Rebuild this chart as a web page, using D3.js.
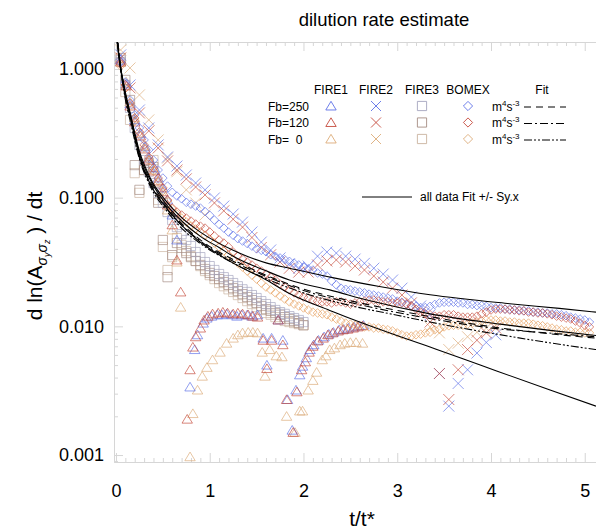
<!DOCTYPE html>
<html>
<head>
<meta charset="utf-8">
<script src="https://cdn.jsdelivr.net/npm/d3@7"></script>
<style>
  body { margin: 0; background: #fff; }
  text { font-family: "Liberation Sans", Arial, Helvetica, sans-serif; }
</style>
</head>
<body>
<svg id="chart" width="596" height="532"></svg>
<script>
// ---- data ----
const fbLabels = ['Fb=250', 'Fb=120', 'Fb=  0'];
const caseNames = ['FIRE1', 'FIRE2', 'FIRE3', 'BOMEX'];
const yTickValues = [0.001, 0.01, 0.1, 1];
const xTickValues = [0, 1, 2, 3, 4, 5];

// BOMEX: sampled every 0.05 starting at t/t* = 0.05
const bomexT0 = 0.05, bomexDt = 0.05;
const bomexFb250 = [
  1.13, 0.79, 0.574, 0.44, 0.348, 0.281, 0.235, 0.196, 0.164, 0.142,
  0.123, 0.110, 0.103, 0.098, 0.092, 0.089, 0.086, 0.083, 0.078, 0.073,
  0.067, 0.062, 0.058, 0.054, 0.051, 0.048, 0.046, 0.044, 0.042, 0.040,
  0.039, 0.038, 0.036, 0.035, 0.034, 0.033, 0.032, 0.031, 0.030, 0.029,
  0.028, 0.0274, 0.026, 0.0255, 0.0246, 0.0225, 0.021, 0.0198, 0.0194, 0.0192,
  0.0188, 0.0185, 0.0182, 0.0178, 0.0175, 0.0172, 0.0169, 0.0166, 0.0163, 0.0157,
  0.0154, 0.0148, 0.0145, 0.0143, 0.0140, 0.0140, 0.0143, 0.0148, 0.0152, 0.0154,
  0.0154, 0.0154, 0.0152, 0.0152, 0.0148, 0.0148, 0.0145, 0.0145, 0.0143, 0.0140,
  0.0139, 0.0139, 0.0136, 0.0136, 0.0134, 0.0134, 0.0132, 0.0132, 0.0129, 0.0129,
  0.0127, 0.0127, 0.0125, 0.0125, 0.0123, 0.0121, 0.0118, 0.0116, 0.0114, 0.0112,
  0.0108
];
const bomexFb120 = [
  1.094, 0.751, 0.544, 0.416, 0.324, 0.257, 0.207, 0.170, 0.142, 0.119,
  0.0959, 0.0831, 0.0773, 0.0733, 0.0694, 0.0658, 0.0624, 0.0601, 0.058, 0.0541,
  0.0503, 0.0469, 0.0444, 0.0414, 0.0378, 0.0351, 0.0333, 0.0316, 0.030, 0.0283,
  0.0269, 0.0255, 0.0241, 0.0229, 0.0213, 0.0202, 0.0192, 0.0182, 0.0175, 0.0169,
  0.0166, 0.016, 0.0157, 0.0155, 0.0155, 0.0152, 0.0155, 0.0155, 0.0152, 0.0149,
  0.0152, 0.0155, 0.0157, 0.016, 0.016, 0.0157, 0.0155, 0.0155, 0.0152, 0.0152,
  0.0152, 0.0149, 0.0144, 0.0136, 0.0129, 0.0125, 0.0123, 0.012, 0.012, 0.0123,
  0.0123, 0.0123, 0.012, 0.0118, 0.0118, 0.0118, 0.012, 0.0125, 0.0129, 0.0134,
  0.0136, 0.0136, 0.0136, 0.0134, 0.0134, 0.0132, 0.0132, 0.0129, 0.0129, 0.0127,
  0.0127, 0.0125, 0.0123, 0.012, 0.0118, 0.0116, 0.0114, 0.011, 0.0106, 0.0102,
  0.0099
];
const bomexFb0 = [
  1.055, 0.712, 0.516, 0.394, 0.307, 0.243, 0.196, 0.161, 0.135, 0.113,
  0.0942, 0.0818, 0.0746, 0.0694, 0.0647, 0.0601, 0.0571, 0.0541, 0.0512, 0.0477,
  0.0444, 0.0414, 0.0385, 0.0358, 0.0333, 0.0311, 0.0289, 0.0269, 0.025, 0.0233,
  0.0217, 0.0202, 0.0192, 0.0182, 0.0172, 0.0163, 0.0155, 0.0149, 0.0144, 0.0139,
  0.0134, 0.0129, 0.0127, 0.0125, 0.0123, 0.0118, 0.0114, 0.011, 0.0106, 0.0104,
  0.0102, 0.0101, 0.0099, 0.0099, 0.0097, 0.0097, 0.0095, 0.0094, 0.0092, 0.0089,
  0.0086, 0.0084, 0.0084, 0.0086, 0.0087, 0.0089, 0.009, 0.0094, 0.0095, 0.0099,
  0.0101, 0.0102, 0.0102, 0.0102, 0.0104, 0.0106, 0.0108, 0.011, 0.0112, 0.0112,
  0.0112, 0.011, 0.011, 0.0108, 0.0108, 0.0106, 0.0106, 0.0106, 0.0104, 0.0102,
  0.0101, 0.0099, 0.0097, 0.0095, 0.0094, 0.0092, 0.0092, 0.009, 0.009, 0.0089,
  0.0089
];

// FIRE2: sampled every 0.1 starting at 0.05 (null = no marker)
const fire2T0 = 0.05, fire2Dt = 0.1;
const fire2Fb250 = [
  1.285, 0.751, 0.480, 0.348, 0.257, 0.207, 0.176, 0.150, 0.130, 0.115,
  0.0995, 0.086, 0.0746, 0.0646, 0.0541, 0.0452, 0.0392, 0.034, 0.0306, 0.0283,
  0.0294, 0.0351, 0.0378, 0.0371, 0.0351, 0.0333, 0.0309, 0.0283, 0.0255, 0.0229,
  0.0198, 0.0169, 0.0144, 0.0123, 0.0043, 0.0024, 0.0036, 0.0046, 0.0062, 0.0075,
  0.0086
];
const fire2Fb120 = [
  1.218, 0.712, 0.455, 0.330, 0.243, 0.193, 0.164, 0.140, 0.121, 0.105,
  0.091, 0.079, 0.068, 0.059, 0.049, 0.041, 0.036, 0.0316, 0.0283, 0.0264,
  0.0264, 0.030, 0.0322, 0.0328, 0.0316, 0.0294, 0.0274, 0.0246, 0.0221, 0.0198,
  0.0175, 0.0152, 0.0129, 0.0108, 0.0043, 0.0027, 0.0046, 0.0066, 0.0078, 0.0089,
  0.0097
];
const fire2Fb0 = [
  1.405, 1.018, 0.628, 0.402, 0.281, 0.203, 0.159, 0.115, 0.091, 0.0733,
  null, null, null, null, null, null, null, null, null, null,
  null, null, null, null, null, null, null, null, null, null,
  null, null, null, 0.0099, 0.0089, 0.0066, 0.0074, 0.0083, 0.009, 0.0097,
  0.0102
];

// FIRE3: sampled every 0.05 starting at 0.05
const fire3T0 = 0.05, fire3Dt = 0.05;
const fire3Fb250 = [
  1.175, 0.751, 0.498, 0.348, 0.257, 0.196, 0.159, 0.130, 0.109, 0.0913,
  0.0773, 0.067, 0.059, 0.052, 0.0469, 0.0421, 0.0378, 0.0345, 0.0316, 0.0294,
  0.0274, 0.0255, 0.0241, 0.0229, 0.0217, 0.0205, 0.0194, 0.0185, 0.0175, 0.0166,
  0.0157, 0.0149, 0.0141, 0.0134, 0.0129, 0.0125, 0.012, 0.0116, 0.0112, 0.0108
];
const fire3Fb120 = [
  1.218, 0.822, 0.574, 0.179, 0.115, 0.164, 0.186, 0.173, 0.0913, 0.0469,
  0.0241, 0.0358, 0.0444, 0.0407, 0.0371, 0.0345, 0.0322, 0.030, 0.0279, 0.026,
  0.0246, 0.0233, 0.0221, 0.021, 0.0198, 0.0188, 0.0178, 0.0169, 0.016, 0.0152,
  0.0144, 0.0136, 0.0132, 0.0127, 0.0123, 0.0118, 0.0114, 0.011, 0.0106, 0.0102
];
const fire3Fb0 = [
  1.133, 0.662, 0.402, 0.155, 0.109, 0.164, 0.179, 0.196, 0.0959, 0.0414,
  0.0274, 0.0345, 0.0485, 0.0429, 0.0385, 0.0351, 0.0322, 0.0294, 0.0269, 0.025,
  0.0233, 0.0217, 0.0205, 0.0194, 0.0185, 0.0175, 0.0166, 0.0157, 0.0149, 0.0141,
  0.0134, 0.0127, 0.0123, 0.0118, 0.0114, 0.011, 0.0108, 0.0106, 0.0104, 0.0102
];

// FIRE1: irregular, [t/t*, value]
const fire1Fb250 = [
  [0.05,1.175],[0.11,0.765],[0.15,0.534],[0.20,0.402],[0.26,0.313],[0.31,0.248],
  [0.35,0.203],[0.41,0.170],[0.45,0.142],[0.50,0.119],[0.55,0.0959],[0.60,0.0733],
  [0.65,0.0469],[0.79,0.00338],[0.84,0.0066],[0.87,0.0086],[0.93,0.0106],[0.97,0.0116],
  [1.02,0.0120],[1.08,0.0123],[1.13,0.0123],[1.18,0.0125],[1.24,0.0123],[1.29,0.0120],
  [1.34,0.0123],[1.40,0.0123],[1.45,0.0120],[1.51,0.0123],[1.57,0.0081],[1.61,0.0050],
  [1.66,0.0081],[1.73,0.0112],[1.78,0.0078],[1.83,0.0027],[1.88,0.00156],[1.92,0.0032],
  [1.96,0.0042],[1.99,0.0049],[2.03,0.0057],[2.07,0.0066],[2.11,0.0072],[2.16,0.0078],
  [2.22,0.0083],[2.27,0.0087],[2.32,0.0090],[2.38,0.0094],[2.43,0.0095],[2.48,0.0097],
  [2.54,0.0099],[2.59,0.0101],[2.64,0.0102]
];
const fire1Fb120 = [
  [0.05,1.133],[0.11,0.738],[0.15,0.515],[0.20,0.387],[0.26,0.302],[0.31,0.239],
  [0.35,0.196],[0.41,0.161],[0.45,0.135],[0.50,0.111],[0.55,0.0877],[0.60,0.0615],
  [0.65,0.0328],[0.69,0.0185],[0.76,0.0019],[0.79,0.0046],[0.82,0.0069],[0.85,0.0083],
  [0.90,0.0097],[0.94,0.0112],[0.98,0.0120],[1.03,0.0125],[1.09,0.0127],[1.14,0.0129],
  [1.19,0.0127],[1.25,0.0125],[1.30,0.0127],[1.35,0.0125],[1.41,0.0123],[1.46,0.0120],
  [1.51,0.0118],[1.57,0.0078],[1.61,0.0047],[1.66,0.0078],[1.73,0.0112],[1.78,0.0072],
  [1.82,0.0027],[1.89,0.0015],[1.93,0.0031],[1.98,0.0046],[2.02,0.0053],[2.06,0.0063],
  [2.10,0.0070],[2.15,0.0077],[2.21,0.0081],[2.26,0.0086],[2.31,0.0089],[2.37,0.0092],
  [2.42,0.0094],[2.47,0.0095],[2.53,0.0097],[2.58,0.0099],[2.63,0.0101]
];
const fire1Fb0 = [
  [0.05,1.218],[0.11,0.792],[0.15,0.554],[0.20,0.416],[0.26,0.318],[0.31,0.252],
  [0.35,0.203],[0.41,0.164],[0.45,0.132],[0.50,0.105],[0.55,0.0802],[0.60,0.0561],
  [0.65,0.0316],[0.69,0.0141],[0.79,0.00097],[0.82,0.0021],[0.87,0.0032],[0.92,0.0041],
  [0.97,0.0048],[1.03,0.0055],[1.11,0.0063],[1.18,0.0074],[1.25,0.0081],[1.30,0.0086],
  [1.35,0.0089],[1.41,0.0090],[1.46,0.0090],[1.51,0.0089],[1.56,0.0063],[1.59,0.0041],
  [1.64,0.0066],[1.71,0.0059],[1.77,0.0058],[1.82,0.0020],[1.91,0.0015],[1.96,0.0022],
  [1.99,0.0022],[2.05,0.0032],[2.10,0.0038],[2.14,0.0044],[2.20,0.0055],[2.24,0.0059],
  [2.28,0.0066],[2.33,0.0068],[2.39,0.0072],[2.44,0.0074],[2.50,0.0075],[2.56,0.0075],
  [2.63,0.0074]
];

// fits, [t/t*, value]
const fitAll = [
  [0.01,1.7],[0.05,1.0],[0.075,0.82],[0.1,0.64],[0.15,0.45],[0.2,0.31],[0.25,0.22],
  [0.36,0.14],[0.54,0.088],[0.71,0.065],[0.9,0.05],[1.1,0.041],[1.25,0.035],[1.6,0.027],
  [1.85,0.0229],[2.28,0.0192],[2.71,0.0158],[3.35,0.0125],[4.1,0.0104],[4.63,0.0093],[5.12,0.0085]
];
const fitAllPlus = [
  [0.01,1.7],[0.05,1.02],[0.1,0.66],[0.15,0.46],[0.25,0.23],[0.36,0.145],[0.54,0.093],
  [0.71,0.069],[0.9,0.054],[1.25,0.039],[1.61,0.031],[1.85,0.0283],[2.31,0.0239],
  [2.81,0.0204],[3.35,0.0176],[4.2,0.0150],[4.73,0.0138],[5.12,0.0129]
];
const fitAllMinus = [
  [0.01,1.7],[0.05,0.99],[0.1,0.63],[0.15,0.44],[0.25,0.21],[0.36,0.13],[0.54,0.083],
  [0.71,0.06],[0.9,0.045],[1.1,0.036],[1.25,0.031],[1.6,0.023],[1.85,0.018],[2.28,0.0133],
  [2.81,0.0095],[3.35,0.0069],[3.7,0.0056],[4.06,0.0045],[4.63,0.0032],[5.12,0.0024]
];
const fitFb250 = [
  [0.02,1.6],[0.05,1.05],[0.1,0.62],[0.15,0.43],[0.25,0.21],[0.36,0.135],[0.54,0.085],
  [0.71,0.062],[0.9,0.047],[1.25,0.033],[1.6,0.025],[2.0,0.0195],[2.5,0.0158],[3.0,0.0133],
  [3.35,0.0119],[4.06,0.0098],[4.6,0.0088],[5.12,0.0081]
];
const fitFb120 = [
  [0.02,1.6],[0.05,1.02],[0.1,0.6],[0.15,0.42],[0.25,0.205],[0.36,0.13],[0.54,0.082],
  [0.71,0.06],[0.9,0.046],[1.25,0.032],[1.6,0.0245],[2.0,0.019],[2.5,0.0153],[3.0,0.0128],
  [3.35,0.0115],[4.06,0.0096],[4.6,0.0089],[5.12,0.0083]
];
const fitFb0 = [
  [0.02,1.6],[0.05,1.0],[0.1,0.58],[0.15,0.4],[0.25,0.2],[0.36,0.125],[0.54,0.079],
  [0.71,0.057],[0.9,0.044],[1.25,0.031],[1.6,0.0235],[2.0,0.0182],[2.5,0.0145],[3.0,0.0122],
  [3.35,0.0108],[4.06,0.0087],[4.6,0.0075],[5.12,0.0066]
];

// ---- drawing ----
const plot = { left: 114, right: 596, top: 42, bottom: 462 };

const colBlue = '#5d70e8', colRed = '#c54a3c', colTan = '#dcab78';
const colOrange = '#e69c58';
const sqBlue = '#a4a4be', sqRed = '#a58c82', sqTan = '#c9b29e';
const fitDash = ['7,5', '8,3,2,3', '8,2,2,2,2,2'];

const svg = d3.select('#chart');

const x = d3.scaleLinear().domain([-0.021, 5.12]).range([plot.left, plot.right]);
const y = d3.scaleLog().domain([0.000883, 1.62]).range([plot.bottom, plot.top]);

svg.append('defs').append('clipPath').attr('id', 'clip')
  .append('rect')
  .attr('x', plot.left).attr('y', plot.top)
  .attr('width', plot.right - plot.left).attr('height', plot.bottom - plot.top);

// marker outlines
const shape = (kind, r) => {
  if (kind === 'tri') {
    const h = r * 0.9;
    return `M0,${-h}L${r},${h * 0.85}L${-r},${h * 0.85}Z`;
  }
  if (kind === 'x') return `M${-r},${-r}L${r},${r}M${-r},${r}L${r},${-r}`;
  if (kind === 'sq') return `M${-r},${-r}H${r}V${r}H${-r}Z`;
  return `M0,${-r}L${r},0L0,${r}L${-r},0Z`;
};

// frame: light grey with inward ticks
const frame = svg.append('g');
const gridCol = '#d6d6d6';

const yMinor = y.ticks().filter(v => !yTickValues.includes(+v.toPrecision(1)));
const addTicks = (axis, tr) => {
  const g = frame.append('g').attr('transform', tr).call(axis);
  g.select('.domain').attr('stroke', gridCol);
  g.selectAll('.tick line').attr('stroke', gridCol);
  g.selectAll('.tick text').remove();
  return g;
};
addTicks(d3.axisRight(y).tickValues(yTickValues).tickSize(9).tickSizeOuter(0), `translate(${plot.left},0)`);
addTicks(d3.axisRight(y).tickValues(yMinor).tickSize(4).tickSizeOuter(0), `translate(${plot.left},0)`);

const xMinor = d3.range(0, 51).map(i => i / 10).filter(v => !xTickValues.includes(v));
addTicks(d3.axisTop(x).tickValues(xTickValues).tickSize(9).tickSizeOuter(0), `translate(0,${plot.bottom})`);
addTicks(d3.axisTop(x).tickValues(xMinor).tickSize(4).tickSizeOuter(0), `translate(0,${plot.bottom})`);
addTicks(d3.axisBottom(x).tickValues(xTickValues).tickSize(9).tickSizeOuter(0), `translate(0,${plot.top})`);
addTicks(d3.axisBottom(x).tickValues(xMinor).tickSize(4).tickSizeOuter(0), `translate(0,${plot.top})`);

// tick labels
const yLab = svg.append('g')
  .attr('transform', `translate(${plot.left},0)`)
  .call(d3.axisLeft(y).tickValues(yTickValues).tickFormat(d3.format('.3f')).tickSize(0).tickPadding(10));
yLab.select('.domain').remove();
yLab.selectAll('text').style('font-size', '18px').attr('fill', '#000')
  .style('font-family', '"Liberation Sans", Arial, sans-serif');

const xLab = svg.append('g')
  .attr('transform', `translate(0,${plot.bottom})`)
  .call(d3.axisBottom(x).tickValues(xTickValues).tickFormat(d3.format('d')).tickSize(0).tickPadding(22));
xLab.select('.domain').remove();
xLab.selectAll('text').style('font-size', '18px').attr('fill', '#000')
  .style('font-family', '"Liberation Sans", Arial, sans-serif');

// data marks
const marks = svg.append('g').attr('clip-path', 'url(#clip)');

const regular = (vals, t0, dt) =>
  vals.map((v, i) => [t0 + i * dt, v]).filter(d => d[1] != null);

const drawMarkers = (pts, kind, r, color) => {
  marks.append('g')
    .selectAll('path')
    .data(pts)
    .join('path')
    .attr('transform', d => `translate(${x(d[0])},${y(d[1])})`)
    .attr('d', shape(kind, r))
    .attr('fill', 'none')
    .attr('stroke', color)
    .attr('stroke-width', 0.8)
    .attr('stroke-opacity', 0.85);
};

drawMarkers(regular(fire3Fb0, fire3T0, fire3Dt), 'sq', 4.6, sqTan);
drawMarkers(regular(fire3Fb120, fire3T0, fire3Dt), 'sq', 4.6, sqRed);
drawMarkers(regular(fire3Fb250, fire3T0, fire3Dt), 'sq', 4.6, sqBlue);

drawMarkers(fire1Fb0, 'tri', 5.2, colTan);
drawMarkers(fire1Fb250, 'tri', 5.2, colBlue);
drawMarkers(fire1Fb120, 'tri', 5.2, colRed);

drawMarkers(regular(fire2Fb0, fire2T0, fire2Dt), 'x', 5.5, colTan);
drawMarkers(regular(fire2Fb250, fire2T0, fire2Dt), 'x', 5.5, colBlue);
drawMarkers(regular(fire2Fb120, fire2T0, fire2Dt), 'x', 5.5, colRed);

drawMarkers(regular(bomexFb250, bomexT0, bomexDt), 'dia', 4.3, colBlue);
drawMarkers(regular(bomexFb0, bomexT0, bomexDt), 'dia', 4.3, colOrange);
drawMarkers(regular(bomexFb120, bomexT0, bomexDt), 'dia', 4.3, colRed);

// fit lines
const line = d3.line().x(d => x(d[0])).y(d => y(d[1])).curve(d3.curveMonotoneX);
const fits = [
  { data: fitFb250, dash: fitDash[0] },
  { data: fitFb120, dash: fitDash[1] },
  { data: fitFb0, dash: fitDash[2] },
  { data: fitAllPlus, dash: null },
  { data: fitAll, dash: null },
  { data: fitAllMinus, dash: null }
];
marks.append('g')
  .selectAll('path')
  .data(fits)
  .join('path')
  .attr('d', d => line(d.data))
  .attr('fill', 'none')
  .attr('stroke', '#000')
  .attr('stroke-width', 1.1)
  .attr('stroke-dasharray', d => d.dash);

// title and axis titles
svg.append('text')
  .attr('x', 384).attr('y', 26)
  .attr('text-anchor', 'middle')
  .style('font-size', '18.5px')
  .text('dilution rate estimate');

svg.append('text')
  .attr('x', 362).attr('y', 526)
  .attr('text-anchor', 'middle')
  .style('font-size', '21px')
  .text('t/t*');

const yt = svg.append('text')
  .attr('transform', 'translate(42,256) rotate(-90)')
  .attr('text-anchor', 'middle')
  .style('font-size', '21px');
yt.append('tspan').text('d ln(A');
yt.append('tspan').attr('dy', 5).style('font-size', '14px').style('font-style', 'italic').text('σ');
yt.append('tspan').attr('dy', 3).style('font-size', '9px').style('font-style', 'italic').text('y');
yt.append('tspan').attr('dy', -3).style('font-size', '14px').style('font-style', 'italic').text('σ');
yt.append('tspan').attr('dy', 3).style('font-size', '9px').style('font-style', 'italic').text('z');
yt.append('tspan').attr('dy', -8).text(' ) / dt');

// legend
const legend = svg.append('g').style('font-size', '12px');
const colX = [331, 376, 422, 468];
const rowY = [106, 122.5, 139];
caseNames.forEach((c, i) => {
  legend.append('text').attr('x', colX[i]).attr('y', 94).attr('text-anchor', 'middle').text(c);
});
legend.append('text').attr('x', 542).attr('y', 94).attr('text-anchor', 'middle').text('Fit');

const legendCols = [
  { kind: 'tri', r: 5.2, cols: [colBlue, colRed, colTan] },
  { kind: 'x', r: 5, cols: [colBlue, colRed, colTan] },
  { kind: 'sq', r: 4.6, cols: [sqBlue, sqRed, sqTan] },
  { kind: 'dia', r: 4.6, cols: [colBlue, colRed, colTan] }
];
fbLabels.forEach((lab, j) => {
  legend.append('text').attr('x', 268).attr('y', rowY[j] + 4.5)
    .style('white-space', 'pre').text(lab);
  legendCols.forEach((lc, i) => {
    legend.append('path')
      .attr('transform', `translate(${colX[i]},${rowY[j]})`)
      .attr('d', shape(lc.kind, lc.r))
      .attr('fill', 'none').attr('stroke', lc.cols[j]).attr('stroke-width', 0.9);
  });
  const u = legend.append('text').attr('x', 492).attr('y', rowY[j] + 4.5);
  u.append('tspan').text('m');
  u.append('tspan').attr('dy', -5).style('font-size', '8px').text('4');
  u.append('tspan').attr('dy', 5).text('s');
  u.append('tspan').attr('dy', -5).style('font-size', '8px').text('-3');
  legend.append('line')
    .attr('x1', 524).attr('x2', 566).attr('y1', rowY[j] + 1).attr('y2', rowY[j] + 1)
    .attr('stroke', '#000').attr('stroke-width', 1).attr('stroke-dasharray', fitDash[j]);
});

legend.append('line').attr('x1', 362).attr('x2', 412).attr('y1', 197).attr('y2', 197)
  .attr('stroke', '#000').attr('stroke-width', 1);
legend.append('text').attr('x', 420).attr('y', 201).text('all data Fit +/- Sy.x');
</script>
</body>
</html>
